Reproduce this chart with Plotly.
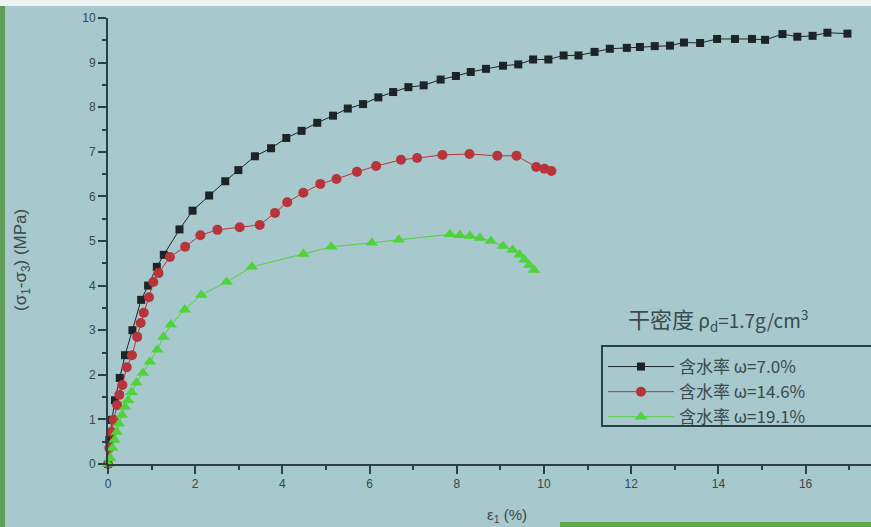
import plotly.graph_objects as go

# ---- data ----
series_names = [
    "含水率<span style='font-size:17px'> ω=7.0%</span>",
    "含水率<span style='font-size:17px'> ω=14.6%</span>",
    "含水率<span style='font-size:17px'> ω=19.1%</span>",
]

x_w7 = [0, 0.03, 0.09, 0.16, 0.27, 0.39, 0.56, 0.76, 0.92, 1.12, 1.28, 1.64, 1.94, 2.32, 2.69,
        2.99, 3.37, 3.74, 4.09, 4.44, 4.8, 5.16, 5.5, 5.85, 6.2, 6.54, 6.89, 7.24, 7.63, 7.98,
        8.32, 8.67, 9.06, 9.41, 9.75, 10.1, 10.45, 10.79, 11.16, 11.51, 11.9, 12.2, 12.54,
        12.89, 13.21, 13.58, 13.97, 14.38, 14.77, 15.07, 15.47, 15.81, 16.16, 16.5, 16.96]
y_w7 = [0, 0.54, 0.99, 1.43, 1.93, 2.44, 3.0, 3.68, 4.0, 4.42, 4.69, 5.26, 5.68, 6.02, 6.34,
        6.59, 6.9, 7.08, 7.31, 7.47, 7.65, 7.81, 7.97, 8.07, 8.22, 8.34, 8.45, 8.49, 8.62, 8.7,
        8.79, 8.86, 8.93, 8.96, 9.07, 9.07, 9.16, 9.16, 9.24, 9.31, 9.33, 9.35, 9.37,
        9.38, 9.45, 9.44, 9.53, 9.53, 9.53, 9.51, 9.64, 9.58, 9.6, 9.67, 9.65]

x_w146 = [0, 0.03, 0.08, 0.13, 0.21, 0.26, 0.33, 0.43, 0.55, 0.67, 0.75, 0.82, 0.94, 1.04,
          1.16, 1.42, 1.77, 2.12, 2.51, 3.02, 3.48, 3.83, 4.11, 4.48, 4.87, 5.24, 5.71, 6.15,
          6.72, 7.09, 7.67, 8.29, 8.93, 9.37, 9.82, 10.01, 10.17]
y_w146 = [0, 0.36, 0.72, 0.99, 1.32, 1.55, 1.77, 2.17, 2.44, 2.85, 3.16, 3.39, 3.74, 4.08,
          4.28, 4.64, 4.87, 5.13, 5.25, 5.31, 5.36, 5.63, 5.87, 6.08, 6.28, 6.39, 6.55, 6.68,
          6.82, 6.86, 6.93, 6.95, 6.91, 6.91, 6.66, 6.62, 6.57]

x_w191 = [0, 0.05, 0.1, 0.15, 0.2, 0.25, 0.32, 0.39, 0.46, 0.54, 0.65, 0.8, 0.96, 1.13, 1.27,
          1.44, 1.76, 2.14, 2.72, 3.3, 4.48, 5.12, 6.05, 6.67, 7.84, 8.07, 8.3, 8.53, 8.78,
          9.06, 9.28, 9.44, 9.55, 9.66, 9.77]
y_w191 = [0, 0.13, 0.36, 0.54, 0.72, 0.9, 1.1, 1.28, 1.43, 1.61, 1.82, 2.04, 2.29, 2.56, 2.85,
          3.12, 3.46, 3.79, 4.08, 4.42, 4.71, 4.87, 4.96, 5.03, 5.15, 5.13, 5.11, 5.07, 5.0,
          4.89, 4.8, 4.69, 4.58, 4.46, 4.35]

x_ticks = [0, 2, 4, 6, 8, 10, 12, 14, 16]
y_ticks = [0, 1, 2, 3, 4, 5, 6, 7, 8, 9, 10]

legend_title = "干密度<span style='font-size:19px'> ρ<sub>d</sub>=1.7g/cm<sup>3</sup></span>"
x_title = "ε<sub>1</sub> (%)"
y_title = "(σ<sub>1</sub>-σ<sub>3</sub>) (MPa)"

# ---- styles ----
BG = "#a7c8cc"
AXIS = "#2c3f44"
TXT = "#3a474b"
FONT = "Noto Sans CJK SC"

fig = go.Figure()
fig.add_trace(go.Scatter(
    x=x_w7, y=y_w7, mode="lines+markers", name=series_names[0],
    line=dict(color="#1d2427", width=1),
    marker=dict(symbol="square", size=8, color="#1d2427"),
    cliponaxis=False))
fig.add_trace(go.Scatter(
    x=x_w146, y=y_w146, mode="lines+markers", name=series_names[1],
    line=dict(color="#b8343b", width=1),
    marker=dict(symbol="circle", size=10, color="#b8343b"),
    cliponaxis=False))
fig.add_trace(go.Scatter(
    x=x_w191, y=y_w191, mode="lines+markers", name=series_names[2],
    line=dict(color="#4fd33a", width=1),
    marker=dict(symbol="triangle-up", size=11, color="#4fd33a"),
    cliponaxis=False))

L, T, B = 108, 18, 63
W, H = 871, 527
pw = W - L
ph = H - T - B

def px_to_paper_x(px):
    return (px - L) / pw

def px_to_paper_y(py):
    return (H - B - py) / ph

fig.update_layout(
    width=W, height=H,
    margin=dict(l=L, r=0, t=T, b=B),
    paper_bgcolor=BG, plot_bgcolor=BG,
    font=dict(family=FONT, color=TXT),
    showlegend=True,
    legend=dict(
        x=px_to_paper_x(603), y=px_to_paper_y(349), xanchor="left", yanchor="top",
        bgcolor="rgba(0,0,0,0)", borderwidth=0,
        font=dict(size=17, family=FONT, color="#3a4a4e"),
        itemwidth=66, tracegroupgap=0,
    ),
    xaxis=dict(
        range=[0, 17.5], tickvals=x_ticks, ticktext=[str(v) for v in x_ticks],
        showgrid=False, zeroline=False, showline=True, linecolor=AXIS, linewidth=2,
        ticks="outside", ticklen=8, tickwidth=2, tickcolor=AXIS,
        minor=dict(dtick=1, ticks="outside", ticklen=4, tickwidth=1.5, tickcolor=AXIS),
        tickfont=dict(size=12, family="Liberation Sans", color=TXT),
    ),
    yaxis=dict(
        range=[0, 10], tickvals=y_ticks, ticktext=[str(v) for v in y_ticks],
        showgrid=False, zeroline=False, showline=True, linecolor=AXIS, linewidth=2,
        ticks="outside", ticklen=8, tickwidth=2, tickcolor=AXIS,
        minor=dict(dtick=0.5, ticks="outside", ticklen=4, tickwidth=1.5, tickcolor=AXIS),
        tickfont=dict(size=12, family="Liberation Sans", color=TXT),
    ),
    annotations=[
        dict(text=legend_title, xref="paper", yref="paper",
             x=px_to_paper_x(626), y=px_to_paper_y(319), xanchor="left", yanchor="middle",
             showarrow=False, font=dict(size=22, family=FONT, color="#3a4a4e")),
        dict(text=x_title, xref="paper", yref="paper",
             x=px_to_paper_x(507), y=px_to_paper_y(515), xanchor="center", yanchor="middle",
             showarrow=False, font=dict(size=15, family="Liberation Sans", color=TXT)),
        dict(text=y_title, xref="paper", yref="paper", textangle=-90,
             x=px_to_paper_x(22), y=px_to_paper_y(260), xanchor="center", yanchor="middle",
             showarrow=False, font=dict(size=17, family="Liberation Sans", color=TXT)),
    ],
    shapes=[
        dict(type="rect", xref="paper", yref="paper", layer="below", line=dict(width=0),
             x0=px_to_paper_x(0), x1=px_to_paper_x(W), y0=px_to_paper_y(6), y1=px_to_paper_y(0),
             fillcolor="#eef2f3"),
        dict(type="rect", xref="paper", yref="paper", layer="below", line=dict(width=0),
             x0=px_to_paper_x(0), x1=px_to_paper_x(5), y0=px_to_paper_y(H), y1=px_to_paper_y(6),
             fillcolor="#5e9e57"),
        dict(type="rect", xref="paper", yref="paper", layer="below", line=dict(width=0),
             x0=px_to_paper_x(560), x1=px_to_paper_x(W), y0=px_to_paper_y(H), y1=px_to_paper_y(522),
             fillcolor="#5ea84f"),
        # legend frame (extends past the right edge as in the reference)
        dict(type="rect", xref="paper", yref="paper", layer="above",
             line=dict(width=2, color=AXIS), fillcolor="rgba(0,0,0,0)",
             x0=px_to_paper_x(602), x1=px_to_paper_x(W + 10),
             y0=px_to_paper_y(426), y1=px_to_paper_y(346)),
    ],
)

fig.write_html("out.html")
